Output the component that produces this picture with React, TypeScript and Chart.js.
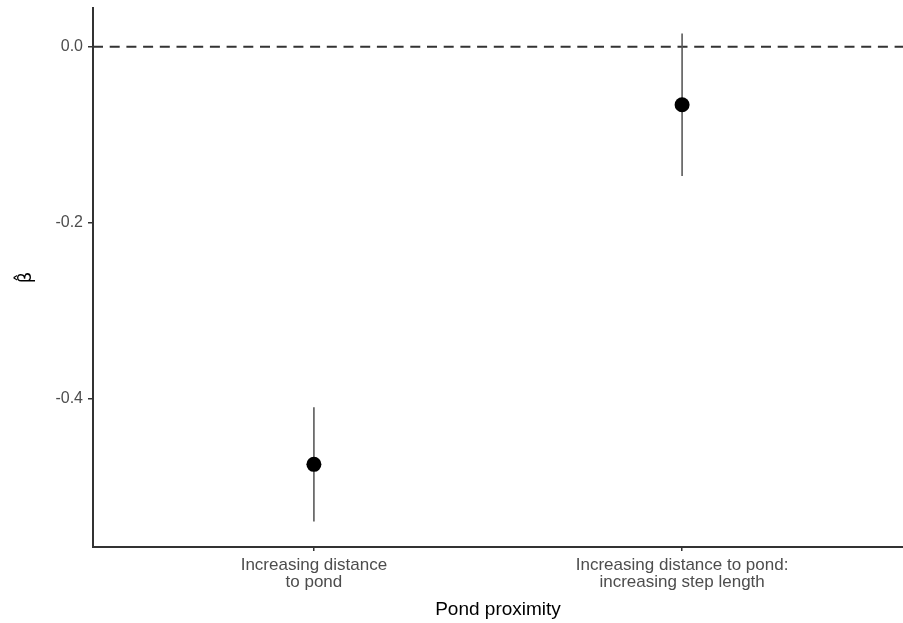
import React, { useEffect, useRef } from "react";
import { Chart, registerables } from "chart.js";

Chart.register(...registerables);

const categories: string[][] = [
  ["Increasing distance", "to pond"],
  ["Increasing distance to pond:", "increasing step length"],
];
const estimates: number[] = [-0.475, -0.066];
const lowerCI: number[] = [-0.54, -0.147];
const upperCI: number[] = [-0.41, 0.015];
const yTicks: number[] = [0, -0.2, -0.4];
const referenceLine: number = 0;

const X_MIN = 0.4;
const X_MAX = 2.6;
const Y_MIN = -0.569;
const Y_MAX = 0.044;

export default function App() {
  const canvasRef = useRef<HTMLCanvasElement | null>(null);

  useEffect(() => {
    document.body.style.margin = "0";
    const canvas = canvasRef.current;
    if (!canvas) return;

    const pointData = estimates.map((v, i) => ({ x: i + 1, y: v }));
    const errorSets = categories.map((_, i) => ({
      type: "scatter" as const,
      data: [
        { x: i + 1, y: lowerCI[i] },
        { x: i + 1, y: upperCI[i] },
      ],
      showLine: true,
      borderColor: "#5a5a5a",
      borderWidth: 1.6,
      pointRadius: 0,
      order: 2,
    }));

    const chart = new Chart(canvas, {
      type: "scatter",
      data: {
        datasets: [
          {
            data: pointData,
            backgroundColor: "#000000",
            borderColor: "#000000",
            pointRadius: 7.5,
            borderWidth: 0,
            order: 1,
          },
          ...errorSets,
          {
            data: [
              { x: X_MIN, y: referenceLine },
              { x: X_MAX, y: referenceLine },
            ],
            showLine: true,
            borderColor: "#333333",
            borderWidth: 2,
            borderDash: [10, 6.7],
            pointRadius: 0,
            order: 3,
          },
        ] as any,
      },
      options: {
        animation: false,
        responsive: false,
        events: [],
        layout: { autoPadding: false, padding: { top: 8, left: 0, right: 0, bottom: 0 } },
        plugins: {
          legend: { display: false },
          tooltip: { enabled: false },
        },
        scales: {
          x: {
            type: "linear",
            min: X_MIN,
            max: X_MAX,
            afterBuildTicks: (scale: any) => {
              scale.ticks = categories.map((_, i) => ({ value: i + 1 }));
            },
            afterFit: (scale: any) => {
              scale.height = 76;
              scale.paddingLeft = 0;
              scale.paddingRight = 0;
            },
            ticks: {
              color: "#4d4d4d",
              font: { family: "Liberation Sans", size: 17, lineHeight: 1.0 },
              padding: 6,
              maxRotation: 0,
              autoSkip: false,
              callback: (value: any) => categories[Math.round(value) - 1] ?? "",
            },
            grid: {
              display: true,
              drawOnChartArea: false,
              drawTicks: true,
              tickLength: 4,
              color: "#333333",
              lineWidth: 1.5,
            },
            border: { display: true, color: "#333333", width: 2 },
            title: {
              display: true,
              text: "Pond proximity",
              color: "#000000",
              font: { family: "Liberation Sans", size: 19 },
              padding: { top: 0, bottom: 2 },
            },
          },
          y: {
            type: "linear",
            min: Y_MIN,
            max: Y_MAX,
            afterBuildTicks: (scale: any) => {
              scale.ticks = yTicks.map((v) => ({ value: v }));
            },
            afterFit: (scale: any) => {
              scale.width = 93;
              scale.paddingTop = 0;
              scale.paddingBottom = 0;
            },
            ticks: {
              color: "#4d4d4d",
              font: { family: "Liberation Sans", size: 16 },
              padding: 5,
              callback: (value: any) => Number(value).toFixed(1),
            },
            grid: {
              display: true,
              drawOnChartArea: false,
              drawTicks: true,
              tickLength: 5,
              color: "#333333",
              lineWidth: 1.5,
            },
            border: { display: true, color: "#333333", width: 2 },
            title: {
              display: true,
              text: "\u03B2\u0302",
              color: "#000000",
              font: { family: "DejaVu Sans", size: 18 },
              padding: { top: 16, bottom: 0 },
            },
          },
        },
      },
    });

    return () => chart.destroy();
  }, []);

  return (
    <div style={{ width: 903, height: 623 }}>
      <canvas ref={canvasRef} width={903} height={623} style={{ display: "block" }} />
    </div>
  );
}
